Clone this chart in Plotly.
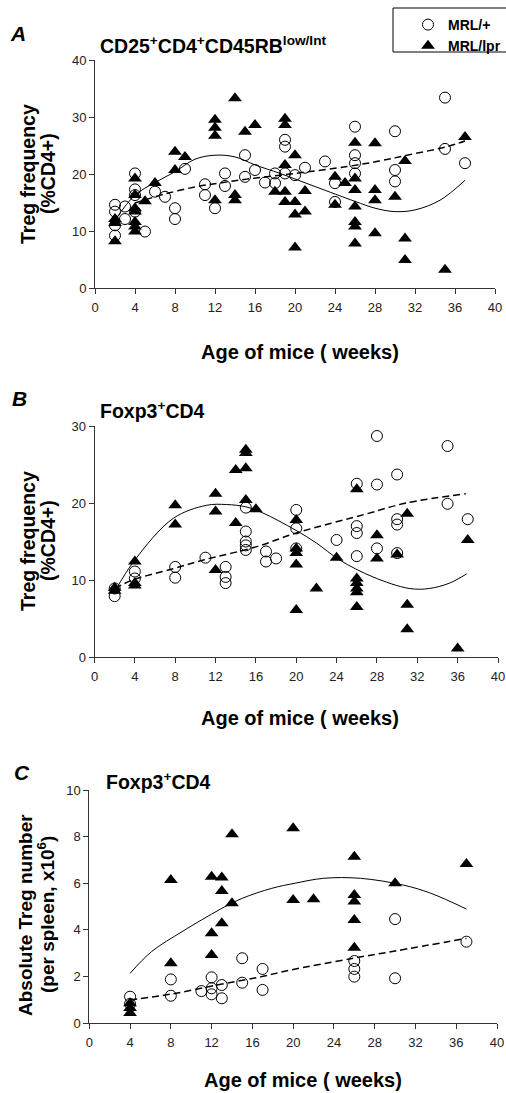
import plotly.graph_objects as go

W, H = 506, 1093

# ---------------- Panel A data ----------------
a_plus_wk = [2, 2, 2, 2, 3, 3, 4, 4, 4, 4, 5, 6, 7, 8, 8, 9, 11, 11, 12, 13, 13, 15, 15, 16, 17, 18, 18,
             19, 19, 19, 20, 21, 23, 24, 24, 26, 26, 26, 26, 30, 30, 30, 35, 35, 37]
a_plus_val = [14.6, 13.4, 11.0, 9.2, 14.3, 12.1, 20.1, 17.3, 16.3, 13.4, 9.9, 16.9, 16.0, 14.0, 12.1, 20.9,
              18.2, 16.3, 14.0, 20.1, 17.9, 23.3, 19.5, 20.7, 18.5, 20.1, 18.4, 26.0, 24.8, 20.1, 19.8,
              21.1, 22.2, 18.4, 15.1, 28.3, 23.3, 21.9, 20.1, 27.5, 20.7, 18.7, 33.4, 24.4, 21.9]
a_lpr_wk = [2, 2, 2, 4, 4, 4, 4, 4, 4, 4, 5, 6, 8, 8, 9, 12, 12, 12, 12, 14, 14, 14, 15, 16, 18,
            19, 19, 19, 19, 19, 20, 20, 20, 20, 21, 21, 24, 24, 25, 26, 26, 26, 26, 26, 26, 26,
            28, 28, 28, 28, 30, 31, 31, 31, 35, 37]
a_lpr_val = [12.1, 11.4, 8.2, 19.2, 16.3, 14.0, 13.4, 11.6, 10.8, 9.9, 15.2, 18.4, 23.9, 20.7, 23.0,
             29.5, 28.1, 26.7, 15.4, 33.3, 16.3, 15.4, 27.4, 28.6, 16.9, 29.7, 28.6, 21.6, 16.9, 15.1,
             23.3, 15.1, 12.9, 7.1, 17.0, 13.4, 19.5, 14.6, 18.4, 25.5, 19.2, 17.2, 14.3, 11.6, 10.8, 7.8,
             25.4, 17.2, 15.4, 9.6, 16.0, 22.3, 8.7, 4.9, 3.2, 26.5]
a_lpr_fit_wk = [2, 4, 6, 8, 10, 12, 14, 16, 18.5, 22, 26, 28, 30, 32, 34.5, 37]
a_lpr_fit_val = [11.9, 16.3, 18.5, 20.4, 22.6, 23.3, 23.0, 21.6, 20.1, 17.8, 15.2, 14.0, 13.4, 13.7, 15.4, 18.9]
a_plus_fit_wk = [4, 6.8, 10.2, 12.8, 15.2, 20, 25.2, 28.5, 31.2, 35.2, 37]
a_plus_fit_val = [14.9, 16.4, 17.8, 18.5, 19.1, 20.1, 21.3, 22.3, 23.3, 24.8, 25.8]

# ---------------- Panel B data ----------------
b_plus_wk = [2, 2, 4, 4, 8, 8, 11, 13, 13, 13, 15, 15, 15, 15, 15, 17, 17, 18, 20, 20, 20, 24,
             26, 26, 26, 26, 28, 28, 28, 30, 30, 30, 30, 35, 35, 37]
b_plus_val = [7.9, 8.9, 11.1, 10.2, 11.7, 10.3, 12.9, 11.7, 10.4, 9.6, 19.4, 16.3, 15.0, 14.5, 13.9,
              13.7, 12.4, 12.8, 19.1, 16.7, 14.1, 15.2, 22.5, 17.0, 16.1, 13.1, 28.7, 22.4, 14.1,
              23.7, 17.9, 17.2, 13.5, 27.4, 19.9, 17.9]
b_lpr_wk = [2, 2, 4, 4, 4, 8, 8, 12, 12, 12, 14, 14, 15, 15, 15, 15, 16, 20, 20, 20, 20, 20, 22, 24,
            26, 26, 26, 26, 26, 26, 28, 28, 30, 31, 31, 31, 36, 37]
b_lpr_val = [9.0, 8.6, 12.4, 9.6, 9.3, 19.7, 17.2, 21.2, 18.9, 11.3, 24.3, 17.4, 26.9, 26.5, 24.5, 20.4,
             19.2, 17.8, 14.1, 13.5, 12.0, 6.1, 8.9, 12.9, 21.8, 10.2, 9.6, 8.9, 8.4, 6.5, 15.8, 12.8,
             13.3, 18.6, 6.8, 3.6, 1.1, 15.2]
b_lpr_fit_wk = [2, 4, 7.8, 11.1, 13.1, 15, 16.7, 19.9, 22, 24.3, 27.6, 31.2, 33.2, 35.2, 36.9]
b_lpr_fit_val = [8.5, 12.6, 18.0, 19.7, 19.8, 19.5, 18.7, 16.5, 14.8, 12.6, 10.4, 8.9, 8.9, 9.6, 10.8]
b_plus_fit_wk = [2, 3.8, 7.9, 10.8, 16, 20, 27, 30.9, 36.8]
b_plus_fit_val = [8.9, 10.0, 11.5, 12.6, 14.3, 16.1, 18.6, 20.0, 21.2]

# ---------------- Panel C data ----------------
c_plus_wk = [4, 4, 8, 8, 11, 12, 12, 12, 13, 13, 15, 15, 17, 17, 26, 26, 26, 30, 30, 37]
c_plus_val = [1.13, 0.82, 1.87, 1.17, 1.37, 1.96, 1.49, 1.23, 1.63, 1.06, 2.78, 1.73, 2.32, 1.42,
              2.66, 2.32, 1.99, 4.46, 1.92, 3.49]
c_lpr_wk = [4, 4, 4, 8, 8, 12, 12, 12, 13, 13, 13, 14, 14, 20, 20, 22, 26, 26, 26, 26, 26, 30, 37]
c_lpr_val = [0.85, 0.64, 0.43, 6.14, 2.56, 6.28, 3.85, 2.92, 6.24, 5.67, 4.28, 8.10, 5.14, 8.36, 5.28,
             5.31, 7.14, 5.49, 5.21, 4.42, 3.23, 6.0, 6.82]
c_lpr_fit_wk = [4, 6.1, 9.1, 11, 13, 15, 17.9, 20.2, 23, 26.6, 30.8, 33.5, 37]
c_lpr_fit_val = [2.13, 3.06, 3.92, 4.42, 4.92, 5.35, 5.78, 6.0, 6.21, 6.21, 5.92, 5.57, 4.89]
c_plus_fit_wk = [4, 8, 12.9, 16.9, 19.7, 25.9, 30, 37]
c_plus_fit_val = [0.99, 1.24, 1.66, 1.99, 2.27, 2.78, 3.09, 3.63]

x_ticks = [0, 4, 8, 12, 16, 20, 24, 28, 32, 36, 40]

FONT = "Liberation Sans, Arial, sans-serif"
AX = "#333333"

fig = go.Figure()

def add_panel(n, plus_wk, plus_val, lpr_wk, lpr_val, pfit_wk, pfit_val, lfit_wk, lfit_val, show):
    xa = "x" if n == 1 else f"x{n}"
    ya = "y" if n == 1 else f"y{n}"
    fig.add_trace(go.Scatter(x=lfit_wk, y=lfit_val, mode="lines", xaxis=xa, yaxis=ya,
                             line=dict(color="black", width=1, shape="spline", smoothing=1),
                             showlegend=False, hoverinfo="skip"))
    fig.add_trace(go.Scatter(x=pfit_wk, y=pfit_val, mode="lines", xaxis=xa, yaxis=ya,
                             line=dict(color="black", width=1.5, dash="7px,4px", shape="spline", smoothing=1),
                             showlegend=False, hoverinfo="skip"))
    fig.add_trace(go.Scatter(x=plus_wk, y=plus_val, mode="markers", xaxis=xa, yaxis=ya, name="MRL/+",
                             marker=dict(symbol="circle-open", size=11, color="black", line=dict(width=1)),
                             showlegend=show, legendgroup="p", cliponaxis=False))
    fig.add_trace(go.Scatter(x=lpr_wk, y=lpr_val, mode="markers", xaxis=xa, yaxis=ya, name="MRL/lpr",
                             marker=dict(symbol="triangle-up", size=12, color="black", line=dict(width=0)),
                             showlegend=show, legendgroup="l", cliponaxis=False))

add_panel(1, a_plus_wk, a_plus_val, a_lpr_wk, a_lpr_val, a_plus_fit_wk, a_plus_fit_val,
          a_lpr_fit_wk, a_lpr_fit_val, True)
add_panel(2, b_plus_wk, b_plus_val, b_lpr_wk, b_lpr_val, b_plus_fit_wk, b_plus_fit_val,
          b_lpr_fit_wk, b_lpr_fit_val, False)
add_panel(3, c_plus_wk, c_plus_val, c_lpr_wk, c_lpr_val, c_plus_fit_wk, c_plus_fit_val,
          c_lpr_fit_wk, c_lpr_fit_val, False)

def px(p):
    return p / W

def py(p):
    return 1 - p / H

TICKFONT = dict(family=FONT, size=13, color="#222")

def xaxis(x0, x1, anchor):
    return dict(domain=[px(x0), px(x1)], range=[0, 40], tickvals=x_ticks, ticks="outside", ticklen=5,
                tickcolor=AX, showline=True, linecolor=AX, linewidth=1, showgrid=False, zeroline=False,
                tickfont=TICKFONT, anchor=anchor, fixedrange=True, automargin=False,
                ticklabeloverflow="allow", ticklabelstandoff=2)

def yaxis(top, bottom, rmax, dt, anchor):
    return dict(domain=[py(bottom), py(top)], range=[0, rmax], dtick=dt, ticks="outside", ticklen=5,
                tickcolor=AX, showline=True, linecolor=AX, linewidth=1, showgrid=False, zeroline=False,
                tickfont=TICKFONT, anchor=anchor, fixedrange=True, automargin=False,
                ticklabeloverflow="allow")

fig.update_layout(
    width=W, height=H, margin=dict(l=0, r=0, t=0, b=0, pad=0, autoexpand=False),
    paper_bgcolor="white", plot_bgcolor="white",
    font=dict(family=FONT, color="black"),
    xaxis=xaxis(95, 495, "y"), yaxis=yaxis(60, 288, 40, 10, "x"),
    xaxis2=xaxis(94.5, 498, "y2"), yaxis2=yaxis(426, 657, 30, 10, "x2"),
    xaxis3=xaxis(89.3, 497, "y3"), yaxis3=yaxis(790, 1023, 10, 2, "x3"),
    legend=dict(x=1, y=py(9), xanchor="right", yanchor="top", bgcolor="rgba(0,0,0,0)",
                borderwidth=0, font=dict(family=FONT, size=14, color="black", weight="bold"),
                tracegroupgap=0, itemwidth=30),
    shapes=[dict(type="rect", xref="paper", yref="paper", x0=px(393), x1=px(507), y0=py(52), y1=py(8),
                 line=dict(color="black", width=1), fillcolor="rgba(0,0,0,0)", layer="above")],
)

ann = []
def text(x, y, s, size, italic=False, angle=0, xanchor="left", align="left"):
    ann.append(dict(x=px(x), y=py(y), xref="paper", yref="paper", text=s, showarrow=False,
                    xanchor=xanchor, yanchor="middle", textangle=angle, align=align,
                    font=dict(family=FONT, size=size, color="black", weight="bold",
                              style="italic" if italic else "normal")))

# panel letters
text(8, 33, "A", 21, italic=True)
text(10, 398, "B", 21, italic=True)
text(12, 772, "C", 21, italic=True)
# panel titles
text(98, 45, "CD25<sup>+</sup>CD4<sup>+</sup>CD45RB<sup>low/Int</sup>", 19.5)
text(98, 410, "Foxp3<sup>+</sup>CD4", 19.5)
text(104, 781, "Foxp3<sup>+</sup>CD4", 19.5)
# y axis titles (two lines each)
text(28, 174, "Treg frequency", 19.5, angle=-90, xanchor="center", align="center")
text(48, 174, "(%CD4+)", 19.5, angle=-90, xanchor="center", align="center")
text(28, 541, "Treg frequency", 19.5, angle=-90, xanchor="center", align="center")
text(48, 541, "(%CD4+)", 19.5, angle=-90, xanchor="center", align="center")
text(25, 915, "Absolute Treg number", 19, angle=-90, xanchor="center", align="center")
text(46, 915, "(per spleen, x10<sup>6</sup>)", 19, angle=-90, xanchor="center", align="center")
# x axis titles
text(300, 352, "Age of mice ( weeks)", 20, xanchor="center")
text(300, 718, "Age of mice ( weeks)", 20, xanchor="center")
text(303, 1080, "Age of mice ( weeks)", 20, xanchor="center")

fig.update_layout(annotations=ann)

fig.write_html("out.html", config={"displayModeBar": False},
               post_script="document.body.style.margin='0px';document.body.style.padding='0px';")
